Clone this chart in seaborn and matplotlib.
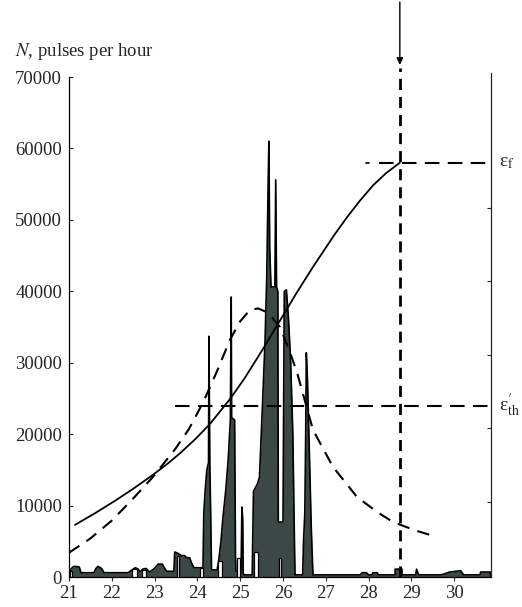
import numpy as np
import pandas as pd
import matplotlib
matplotlib.use("Agg")
import matplotlib.pyplot as plt
import seaborn as sns

# ---- pulse-rate record (time, pulses per hour) ----
hist_t = [21.00, 21.02, 21.09, 21.13, 21.24, 21.28, 21.58, 21.63, 21.68, 21.76, 21.82,
          22.38, 22.45, 22.55, 22.62, 22.66, 22.72, 22.80, 22.88, 22.98, 23.08, 23.18,
          23.28, 23.45, 23.47, 23.55, 23.62, 23.70, 23.75, 23.82, 23.86, 23.92, 24.05,
          24.13, 24.15, 24.18, 24.22, 24.26, 24.27, 24.29, 24.31, 24.33, 24.46, 24.50,
          24.55, 24.60, 24.66, 24.72, 24.77, 24.79, 24.80, 24.87, 24.89, 24.90, 25.02,
          25.04, 25.06, 25.07, 25.10, 25.28, 25.31, 25.40, 25.45, 25.52, 25.58, 25.62,
          25.65, 25.67, 25.69, 25.72, 25.81, 25.83, 25.85, 25.88, 25.89, 26.00, 26.03,
          26.08, 26.13, 26.18, 26.23, 26.26, 26.28, 26.46, 26.48, 26.51, 26.53, 26.545,
          26.57, 26.61, 26.66, 26.70, 27.80, 27.85, 27.95, 28.00, 28.08, 28.10, 28.20,
          28.23, 28.62, 28.62, 28.78, 28.78, 29.10, 29.12, 29.17, 29.70, 29.90, 30.05,
          30.15, 30.22, 30.60, 30.62, 30.84, 30.86]
hist_n = [0, 900, 1400, 1500, 1400, 600, 600, 1200, 1500, 1200, 600,
          600, 900, 1300, 1100, 700, 1100, 1200, 700, 1100, 1800, 1800,
          800, 800, 3500, 3300, 3000, 3000, 2700, 2700, 2000, 1300, 1300,
          1300, 9000, 12000, 15000, 16000, 33700, 16000, 9000, 1000, 1000, 2400,
          5000, 8500, 12000, 16500, 22000, 39200, 22300, 22000, 3000, 800, 800,
          9800, 8000, 500, 300, 300, 12000, 13000, 14000, 24000, 33000, 42000,
          54000, 61000, 46000, 40600, 40600, 55600, 40600, 40000, 7700, 7700, 40000,
          40200, 36000, 30000, 20000, 8000, 300, 300, 5000, 9000, 20000, 31400,
          28000, 19000, 7000, 300, 300, 600, 600, 300, 300, 600, 600,
          300, 300, 1100, 1100, 300, 300, 1100, 300, 300, 700, 800,
          900, 300, 300, 700, 700, 0]

# gaps inside the record: start, end, height
gap_start = [21.03, 22.47, 22.70, 23.52, 24.06, 24.48, 24.92, 25.33, 25.90]
gap_end = [21.08, 22.58, 22.80, 23.58, 24.12, 24.57, 24.99, 25.41, 25.96]
gap_height = [800, 1100, 1000, 2900, 1200, 2200, 2700, 3500, 2700]

# ---- deformation curve (solid) ----
eps_t = [21.14, 21.6, 22.07, 22.5, 22.96, 23.3, 23.59, 23.95, 24.29, 24.76, 25.1,
         25.53, 25.93, 26.3, 26.70, 27.2, 27.5, 27.80, 28.1, 28.4, 28.73]
eps_n = [7300, 8900, 10650, 12350, 14300, 15850, 17300, 19300, 21400, 24900, 27800,
         31900, 35900, 39600, 43400, 47900, 50400, 52700, 54800, 56500, 58000]

# ---- rate curve (dashed bell) ----
rate_t = [21.0, 21.5, 22.0, 22.47, 22.96, 23.48, 23.8, 24.13, 24.45, 24.76, 25.0,
          25.23, 25.42, 25.65, 25.93, 26.13, 26.33, 26.70, 27.17, 27.73, 28.2,
          28.57, 29.1, 29.6]
rate_n = [3400, 5400, 7900, 10800, 14000, 17900, 20700, 24400, 28700, 33200, 35800,
          37400, 37600, 37000, 35000, 32000, 28600, 20600, 15400, 11200, 9100,
          7700, 6500, 5600]

# ---- thresholds ----
eps_f_level = 58000
eps_th_level = 24000
t_mark = 28.73

y_ticks = [0, 10000, 20000, 30000, 40000, 50000, 60000, 70000]
x_ticks = [21, 22, 23, 24, 25, 26, 27, 28, 29, 30]
right_ticks = [10500, 20860, 31080, 41440, 51660]

sns.set_style("ticks")
plt.rcParams["font.family"] = ["Liberation Serif", "DejaVu Serif"]
plt.rcParams["mathtext.fontset"] = "stix"

fig = plt.figure(figsize=(5.22, 6.07), dpi=100)
ax = fig.add_axes([69 / 522, 1 - 577 / 607, (491 - 69) / 522, (577 - 77) / 607])

fill_col = "#3c4846"
ax.fill_between(hist_t, hist_n, 0, color=fill_col, lw=0, zorder=2)
rec = pd.DataFrame({"t": hist_t, "n": hist_n})
sns.lineplot(data=rec, x="t", y="n", sort=False, estimator=None, color="black",
             lw=1.2, ax=ax, zorder=3)
ax.bar(gap_start, gap_height, width=np.subtract(gap_end, gap_start), align="edge",
       color="white", edgecolor="black", lw=0.9, zorder=4)

eps = pd.DataFrame({"t": eps_t, "n": eps_n})
sns.lineplot(data=eps, x="t", y="n", color="black", lw=1.3, ax=ax, zorder=5)
rate = pd.DataFrame({"t": rate_t, "n": rate_n})
sns.lineplot(data=rate, x="t", y="n", color="black", lw=1.5,
             linestyle=(0, (6, 4)), ax=ax, zorder=5)

# threshold lines
ax.plot([27.95, 28.0], [eps_f_level, eps_f_level], color="black", lw=1.2, zorder=5,
        clip_on=False)
ax.plot([28.25, 30.86], [eps_f_level, eps_f_level], color="black", lw=1.5,
        linestyle=(0, (7, 4)), zorder=5, clip_on=False)
ax.plot([23.48, 30.86], [eps_th_level, eps_th_level], color="black", lw=1.5,
        linestyle=(0, (7, 4)), zorder=5, clip_on=False)
ax.plot([t_mark, t_mark], [0, 71300], color="black", lw=2.0,
        linestyle=(0, (4, 2.5)), zorder=5, clip_on=False)
ax.annotate("", xy=(t_mark, 71700), xytext=(t_mark, 80500),
            arrowprops=dict(arrowstyle="-|>", lw=1.0, color="black",
                            mutation_scale=10, shrinkA=0, shrinkB=0),
            annotation_clip=False)

ax.text(31.05, eps_f_level, r"ε$_{\mathrm{f}}$", fontsize=14,
        va="center", ha="left", clip_on=False)
ax.text(31.05, eps_th_level, r"ε$^{\prime}_{\mathrm{th}}$", fontsize=14,
        va="center", ha="left", clip_on=False)

ax.set_xlim(21, 30.86)
ax.set_ylim(0, 70000)
ax.set_xticks(x_ticks)
ax.set_xticklabels([str(v) for v in x_ticks])
ax.set_yticks(y_ticks)
ax.set_yticklabels([str(v) for v in y_ticks])
ax.set_xlabel("")
ax.set_ylabel("")
ax.tick_params(axis="x", direction="out", length=3, width=0.8, pad=3, labelsize=13.5)
ax.tick_params(axis="y", direction="in", length=3, width=0.8, pad=5, labelsize=13.5)

ax.spines["top"].set_visible(False)
for s in ["left", "right", "bottom"]:
    ax.spines[s].set_linewidth(0.9)
    ax.spines[s].set_color("black")

# right-hand deformation scale: inward ticks, no numbers
axr = ax.twinx()
axr.set_ylim(0, 70000)
axr.set_yticks(right_ticks)
axr.set_yticklabels([])
axr.tick_params(axis="y", direction="in", length=3, width=0.8)
axr.spines["top"].set_visible(False)
axr.spines["left"].set_visible(False)
axr.spines["bottom"].set_visible(False)
axr.spines["right"].set_linewidth(0.9)
axr.spines["right"].set_bounds(0, 70600)
ax.spines["right"].set_visible(False)

fig.text(15 / 522, 1 - 56 / 607, r"$N$, pulses per hour", fontsize=13.5,
         ha="left", va="baseline")

fig.savefig("out.png", dpi=100)
